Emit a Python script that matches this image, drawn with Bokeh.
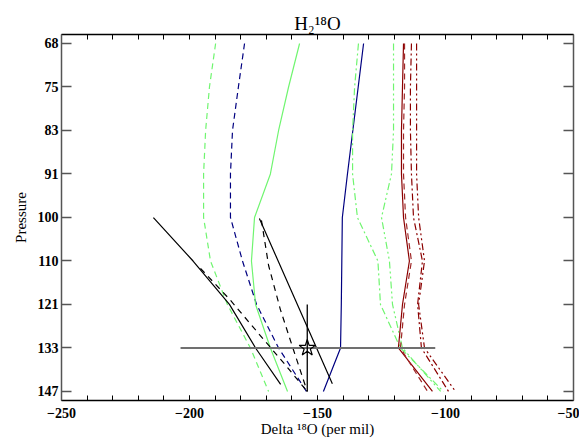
from bokeh.plotting import figure
from bokeh.models import (Range1d, FixedTicker, LinearAxis, LogAxis,
                          CustomJSTickFormatter)
from bokeh.embed import file_html
from bokeh.resources import INLINE

# ---------------- data ----------------
pressure = [68.0, 74.878, 82.452, 90.792, 99.976, 110.089, 121.224, 133.486, 146.988]
pressure_labels = ["68", "75", "83", "91", "100", "110", "121", "133", "147"]
x_major = [-250, -200, -150, -100, -50]
x_minor = list(range(-250, -49, 10))

green_dash = [-189.8, -192.2, -193.7, -194.5, -194.5, -191.8, -185.2, -176.2, -169.1]
navy_dash = [-178.5, -180.9, -183.2, -184.0, -184.0, -179.3, -173.8, -165.2, -154.3]
green_solid = [-157.0, -161.3, -165.2, -168.4, -174.6, -175.8, -174.2, -168.4, -161.7]
navy_solid = [-132.0, -134.1, -136.2, -138.3, -140.3, -140.5, -140.7, -141.0, -147.7]
green_dashdot = [-134.0, -135.5, -136.3, -136.3, -134.4, -126.4, -125.4, -117.6, -100.8]
green_dashdotdot = [-120.3, -120.3, -120.3, -121.1, -125.0, -121.9, -120.7, -116.8, -101.9]
red_solid = [-116.4, -116.8, -117.2, -117.2, -116.4, -114.1, -116.8, -118.4, -105.1]
red_dash = [-116.0, -116.0, -116.4, -116.4, -115.6, -113.3, -116.0, -117.6, -107.0]
red_dashdot = [-113.3, -113.7, -113.7, -113.3, -112.5, -109.0, -110.9, -109.4, -98.8]
red_dashdotdot = [-111.3, -111.3, -111.3, -111.3, -110.5, -108.2, -110.5, -108.2, -96.1]

black_solid_left_p = [100.0, 110.1, 121.2, 133.5, 144.7]
black_solid_left_x = [-214.1, -198.6, -184.4, -174.2, -164.4]
black_dash_left_p = [111.9, 120.1, 129.3, 139.4, 147.0]
black_dash_left_x = [-195.7, -184.0, -173.0, -161.7, -154.0]
black_solid_right_p = [100.2, 120.1, 144.5]
black_solid_right_x = [-172.7, -158.6, -144.2]
black_dash_right_p = [100.6, 111.2, 122.6, 134.0, 147.0]
black_dash_right_x = [-171.9, -169.1, -164.5, -159.4, -154.0]

obs_delta = -154.0
obs_p = 133.5
obs_range_x = [-203.5, -104.0]
obs_range_p = [121.2, 147.0]

FONT = "Liberation Serif"

# ---------------- figure ----------------
p = figure(width=579, height=439,
           x_range=Range1d(-250, -50), y_range=Range1d(149.96, 66.658),
           y_axis_type="log", output_backend="svg", toolbar_location=None,
           min_border_left=61, min_border_right=6, min_border_top=34,
           min_border_bottom=39)
p.outline_line_color = None
p.grid.visible = False
p.background_fill_color = "white"
p.border_fill_color = "white"

p.title.text = "H\u2082\u00b9\u2078O"
p.title.align = "center"
p.title.text_font = FONT
p.title.text_font_size = "19px"
p.title.text_font_style = "normal"
p.title.text_color = "black"
p.title.standoff = 1

# bottom axis
xa = p.xaxis[0]
xa.ticker = FixedTicker(ticks=x_major, minor_ticks=x_minor)
xa.major_tick_in = 5
xa.major_tick_out = 0
xa.minor_tick_in = 5
xa.minor_tick_out = 0
xa.axis_line_width = 1.5
xa.axis_line_color = "black"
xa.major_tick_line_color = "black"
xa.minor_tick_line_color = "black"
xa.major_label_text_font = FONT
xa.major_label_text_font_style = "bold"
xa.major_label_text_font_size = "14px"
xa.major_label_text_color = "black"
xa.major_label_standoff = 7
xa.axis_label = "Delta \u00b9\u2078O (per mil)"
xa.axis_label_text_font = FONT
xa.axis_label_text_font_style = "normal"
xa.axis_label_text_font_size = "15px"
xa.axis_label_text_color = "black"
xa.axis_label_standoff = 0

# top axis: tick marks only (minor ticks carry no labels)
ta = LinearAxis(ticker=FixedTicker(ticks=[], minor_ticks=x_minor),
                major_tick_in=0, major_tick_out=0, minor_tick_in=5, minor_tick_out=0,
                axis_line_width=1.5, axis_line_color="black",
                minor_tick_line_color="black")
p.add_layout(ta, "above")

# left axis
ya = p.yaxis[0]
ya.ticker = FixedTicker(ticks=pressure, minor_ticks=[])
ya.formatter = CustomJSTickFormatter(args=dict(labels=pressure_labels),
                                     code="return labels[index];")
ya.major_tick_in = 10
ya.major_tick_out = 0
ya.minor_tick_in = 0
ya.minor_tick_out = 0
ya.axis_line_color = "#555555"
ya.axis_line_width = 1.5
ya.major_tick_line_color = "#555555"
ya.major_tick_line_width = 1.5
ya.major_label_text_font = FONT
ya.major_label_text_font_style = "bold"
ya.major_label_text_font_size = "14px"
ya.major_label_text_color = "black"
ya.major_label_standoff = 3
ya.axis_label = "Pressure"
ya.axis_label_text_font = FONT
ya.axis_label_text_font_style = "normal"
ya.axis_label_text_font_size = "15px"
ya.axis_label_text_color = "black"
ya.axis_label_standoff = 6

# right axis: tick marks only
ra = LogAxis(ticker=FixedTicker(ticks=[], minor_ticks=pressure),
             major_tick_in=0, major_tick_out=0, minor_tick_in=10, minor_tick_out=0,
             axis_line_color="#555555", axis_line_width=1.5,
             minor_tick_line_color="#555555", minor_tick_line_width=1.5)
p.add_layout(ra, "right")

GREEN = "#70f570"
NAVY = "#000080"
RED = "#8b0000"
RED2 = "#a02828"
LW = 1.2

p.line(green_dash, pressure, line_color=GREEN, line_width=LW, line_dash="6 4")
p.line(navy_dash, pressure, line_color=NAVY, line_width=LW, line_dash="6 4")
p.line(green_solid, pressure, line_color=GREEN, line_width=LW)
p.line(navy_solid, pressure, line_color=NAVY, line_width=LW)
p.line(green_dashdot, pressure, line_color=GREEN, line_width=LW, line_dash="7 3 2 3")
p.line(green_dashdotdot, pressure, line_color=GREEN, line_width=LW, line_dash="7 3 2 3 2 3")
p.line(red_solid, pressure, line_color=RED, line_width=LW)
p.line(red_dash, pressure, line_color=RED2, line_width=LW, line_dash="6 4")
p.line(red_dashdot, pressure, line_color=RED, line_width=LW, line_dash="7 3 2 3")
p.line(red_dashdotdot, pressure, line_color=RED, line_width=LW, line_dash="7 3 2 3 2 3")

p.line(black_solid_left_x, black_solid_left_p, line_color="black", line_width=LW)
p.line(black_dash_left_x, black_dash_left_p, line_color="black", line_width=LW, line_dash="6 5")
p.line(black_solid_right_x, black_solid_right_p, line_color="black", line_width=LW)
p.line(black_dash_right_x, black_dash_right_p, line_color="black", line_width=LW, line_dash="6 5")

# observation with ranges
p.line(obs_range_x, [obs_p, obs_p], line_color="#707070", line_width=2)
p.line([obs_delta, obs_delta], obs_range_p, line_color="black", line_width=1.3)
p.scatter([obs_delta], [obs_p], marker="star", size=17, fill_color=None,
          line_color="black", line_width=1.2)

open("out.html", "w").write(file_html(p, INLINE))
